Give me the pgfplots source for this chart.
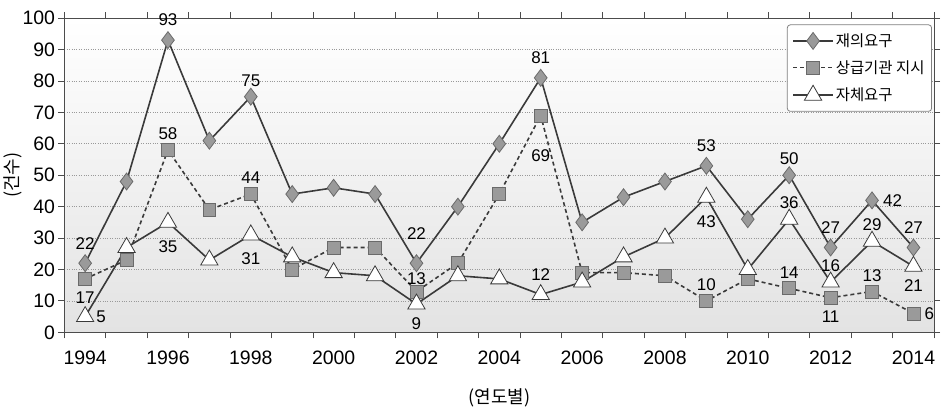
\documentclass[border=0pt]{standalone}
\usepackage{pgfplots}
\pgfplotsset{compat=1.18}
\usepackage{fontspec}
\setmainfont{Liberation Sans}
\newfontfamily\kr{Noto Sans CJK KR}
\definecolor{ln}{HTML}{3A3A3A}
\definecolor{mk}{HTML}{9A9A9A}
\definecolor{mkd}{HTML}{6A6A6A}

\pgfplotsset{
  lbl/.style 2 args={forget plot, draw=none, mark=none,
    point meta=explicit symbolic, nodes near coords,
    every node near coord/.append style={font=\fontsize{17bp}{20bp}\selectfont,
      text=black, anchor=#1, inner sep=#2}},
}

\begin{document}
\begin{tikzpicture}
\begin{axis}[
    scale only axis,
    width=872bp, height=315bp,
    xmin=1993.5, xmax=2014.5,
    ymin=0, ymax=100,
    /pgf/number format/1000 sep={},
    /pgf/number format/assume math mode=true,
    ytick={0,10,...,100},
    xtick={1993.5,1994.5,...,2014.5},
    xticklabels={},
    extra x ticks={1994,1996,...,2014},
    extra x tick style={major tick length=0pt, grid=none},
    tick align=outside,
    major tick length=6bp,
    tick style={draw=black!70, line width=0.8bp},
    ticklabel style={font=\fontsize{19.5bp}{22bp}\selectfont},
    xticklabel style={yshift=-15bp},
    axis line style={draw=black!70, line width=1bp},
    axis background/.style={shade, top color=white, bottom color=black!11},
    ymajorgrids,
    major grid style={dotted, draw=black!40, line width=0.7bp},
    ylabel={\kr (건수)},
    ylabel style={font=\fontsize{18bp}{21bp}\selectfont, yshift=-6bp},
    xlabel={\kr (연도별)},
    xlabel style={font=\fontsize{18bp}{21bp}\selectfont, yshift=-11bp},
    legend style={at={(rel axis cs:0.9975,0.98)}, anchor=north east,
      draw=black!50, line width=0.8bp, rounded corners=3bp, fill=white,
      font=\fontsize{15.5bp}{18bp}\selectfont\kr,
      row sep=8.5bp, inner xsep=5bp, inner ysep=7bp},
    legend cell align=left,
    legend image code/.code={\draw[mark repeat=2,mark phase=2,#1] plot coordinates {(0bp,0bp) (20bp,0bp) (40bp,0bp)};},
]

  % 재의요구
  \addplot[ln, line width=1.6bp, mark=diamond*, mark size=8.5bp,
    mark options={solid, fill=mk, draw=mkd, line width=0.8bp}]
    table {
    x y
    1994 22
    1995 48
    1996 93
    1997 61
    1998 75
    1999 44
    2000 46
    2001 44
    2002 22
    2003 40
    2004 60
    2005 81
    2006 35
    2007 43
    2008 48
    2009 53
    2010 36
    2011 50
    2012 27
    2013 42
    2014 27
    };

  % 상급기관 지시
  \addplot[ln, line width=1.6bp, dash pattern=on 4bp off 3bp, mark=square*, mark size=6.5bp,
    mark options={solid, fill=mk, draw=mkd, line width=0.8bp}]
    table {
    x y
    1994 17
    1995 23
    1996 58
    1997 39
    1998 44
    1999 20
    2000 27
    2001 27
    2002 13
    2003 22
    2004 44
    2005 69
    2006 19
    2007 19
    2008 18
    2009 10
    2010 17
    2011 14
    2012 11
    2013 13
    2014 6
    };

  % 자체요구
  \addplot[ln, line width=1.6bp, mark=triangle*, mark size=10bp,
    mark options={solid, fill=white, draw=ln, line width=0.8bp}]
    table {
    x y
    1994 5
    1995 27
    1996 35
    1997 23
    1998 31
    1999 24
    2000 19
    2001 18
    2002 9
    2003 18
    2004 17
    2005 12
    2006 16
    2007 24
    2008 30
    2009 43
    2010 20
    2011 36
    2012 16
    2013 29
    2014 21
    };

  \legend{재의요구, 상급기관 지시, 자체요구}

  % value labels, grouped by side and distance from the point
  \addplot[lbl={south}{10bp}] coordinates {
    (1996,58) [58] (1998,44) [44] (2009,10) [10] (2011,14) [14]
    (2011,36) [36] (2012,16) [16] (2013,29) [29] (1998,75) [75]
    (2011,50) [50] (2013,13) [13]};
  \addplot[lbl={south}{14bp}] coordinates {
    (1994,22) [22] (1996,93) [93] (2005,81) [81] (2005,12) [12]
    (2009,53) [53] (2012,27) [27] (2014,27) [27]};
  \addplot[lbl={south}{24bp}] coordinates {(2002,22) [22]};
  \addplot[lbl={south}{7bp}] coordinates {(2002,13) [13]};
  \addplot[lbl={north}{13bp}] coordinates {
    (1994,17) [17] (2012,11) [11] (2014,21) [21] (2002,9) [9]};
  \addplot[lbl={north}{18bp}] coordinates {
    (1996,35) [35] (1998,31) [31] (2009,43) [43]};
  \addplot[lbl={north}{34bp}] coordinates {(2005,69) [69]};
  \addplot[lbl={west}{11bp}] coordinates {
    (2013,42) [42] (2014,6) [6] (1994,5) [5]};
\end{axis}
\end{tikzpicture}
\end{document}
